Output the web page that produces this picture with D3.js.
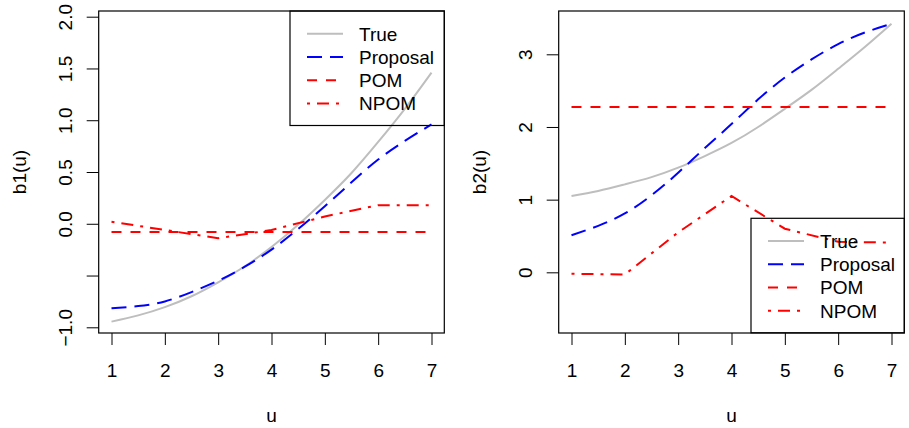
<!DOCTYPE html>
<html><head><meta charset="utf-8">
<script src="https://cdn.jsdelivr.net/npm/d3@7"></script>
<style>
html,body{margin:0;padding:0;background:#fff;}
svg text{font-family:"Liberation Sans",Arial,Helvetica,sans-serif;fill:#000;}
</style></head>
<body>
<svg id="chart" width="909" height="428"></svg>
<script>
// ---------- data ----------
const uFine = [1, 1.5, 2, 2.5, 3, 3.5, 4, 4.5, 5, 5.5, 6, 6.5, 7];
const uKnots = [1, 2, 3, 4, 5, 6, 7];

const b1True     = [-0.945, -0.885, -0.805, -0.70, -0.565, -0.41, -0.225, -0.01, 0.23, 0.49, 0.79, 1.11, 1.46];
const b1Proposal = [-0.815, -0.795, -0.75, -0.66, -0.55, -0.415, -0.25, -0.05, 0.17, 0.40, 0.62, 0.80, 0.96];
const b1POM      = -0.08;
const b1NPOM     = [0.02, -0.06, -0.14, -0.06, 0.07, 0.18, 0.18];

const b2True     = [1.05, 1.12, 1.21, 1.31, 1.44, 1.60, 1.78, 2.00, 2.25, 2.51, 2.80, 3.10, 3.42];
const b2Proposal = [0.51, 0.64, 0.81, 1.06, 1.37, 1.71, 2.04, 2.38, 2.68, 2.93, 3.14, 3.30, 3.42];
const b2POM      = 2.275;
const b2NPOM     = [-0.02, -0.03, 0.55, 1.05, 0.60, 0.42, 0.41];

const xTicks = [1, 2, 3, 4, 5, 6, 7];
const b1Ticks = [-1, -0.5, 0, 0.5, 1, 1.5, 2];
const b1TickLabels = ["\u22121.0", "", "0.0", "0.5", "1.0", "1.5", "2.0"];
const b2Ticks = [0, 1, 2, 3];
const b2TickLabels = ["0", "1", "2", "3"];

const legendNames = ["True", "Proposal", "POM", "NPOM"];

// ---------- styles ----------
const styles = {
  "True":     {color: "#bebebe", dash: null},
  "Proposal": {color: "#0000ff", dash: "15,8"},
  "POM":      {color: "#ff0000", dash: "10,9"},
  "NPOM":     {color: "#ff0000", dash: "3,7,12,7"}
};
const FS = 19;

const svg = d3.select("#chart");

function panel(opt) {
  const g = svg.append("g").attr("transform", `translate(${opt.dx},0)`);
  const left = 98.7, right = 444.3, top = 11, bottom = 333;
  const x = d3.scaleLinear().domain([0.76, 7.24]).range([left, right]);
  const y = d3.scaleLinear().domain(opt.ydom).range([bottom, top]);

  const lineFine = d3.line().x((d, i) => x(uFine[i])).y(d => y(d)).curve(d3.curveNatural);
  const lineKnot = d3.line().x((d, i) => x(uKnots[i])).y(d => y(d));

  const clip = "clip" + opt.dx;
  g.append("clipPath").attr("id", clip).append("rect")
    .attr("x", left).attr("y", top).attr("width", right - left).attr("height", bottom - top);
  const plot = g.append("g").attr("clip-path", `url(#${clip})`);

  function draw(path, name) {
    const s = styles[name];
    plot.append("path").attr("d", path).attr("fill", "none")
      .attr("stroke", s.color).attr("stroke-width", 2)
      .attr("stroke-dasharray", s.dash);
  }
  draw(lineFine(opt.tru), "True");
  draw(lineFine(opt.prop), "Proposal");
  draw(lineKnot(uKnots.map(() => opt.pom)), "POM");
  draw(lineKnot(opt.npom), "NPOM");

  // box
  g.append("rect").attr("x", left).attr("y", top).attr("width", right - left).attr("height", bottom - top)
    .attr("fill", "none").attr("stroke", "#000").attr("stroke-width", 1.2);

  // x axis
  const xa = g.append("g").attr("transform", `translate(0,${bottom})`)
    .call(d3.axisBottom(x).tickValues(xTicks).tickSize(12).tickSizeOuter(0).tickPadding(19).tickFormat(d3.format("d")));
  xa.select(".domain").remove();
  xa.selectAll("line").attr("stroke", "#000");
  xa.selectAll("text").attr("font-size", FS).attr("font-family", null);
  xa.attr("font-family", null).attr("font-size", null);

  // y axis
  const ya = g.append("g").attr("transform", `translate(${left},0)`)
    .call(d3.axisLeft(y).tickValues(opt.yticks).tickSize(12).tickSizeOuter(0)
      .tickFormat((d, i) => opt.ylabels[i]));
  ya.select(".domain").remove();
  ya.selectAll("line").attr("stroke", "#000");
  ya.attr("font-family", null).attr("font-size", null);
  ya.selectAll("text").attr("font-size", FS)
    .attr("x", null).attr("dy", null)
    .attr("text-anchor", "middle")
    .attr("transform", "translate(-27,0) rotate(-90)");

  // axis titles
  g.append("text").attr("x", (left + right) / 2).attr("y", 421.5)
    .attr("text-anchor", "middle").attr("font-size", FS).text("u");
  g.append("text").attr("transform", `translate(25.5,${(top + bottom) / 2}) rotate(-90)`)
    .attr("text-anchor", "middle").attr("font-size", FS).text(opt.ytitle);

  // legend
  const lx = opt.legend.x, ly = opt.legend.y, lw = right - opt.legend.x, lh = 114.5;
  const lg = g.append("g");
  lg.append("rect").attr("x", lx).attr("y", ly).attr("width", lw).attr("height", lh)
    .attr("fill", "none").attr("stroke", "#000").attr("stroke-width", 1.2);
  legendNames.forEach((n, i) => {
    const yy = ly + 22.8 + i * 23.2;
    const s = styles[n];
    lg.append("line").attr("x1", lx + 17).attr("x2", lx + 53).attr("y1", yy).attr("y2", yy)
      .attr("stroke", s.color).attr("stroke-width", 2).attr("stroke-dasharray", s.dash);
    lg.append("text").attr("x", lx + 69).attr("y", yy).attr("dy", "0.36em")
      .attr("font-size", FS).text(n);
  });
}

panel({dx: 0, ydom: [-1.055, 2.055], tru: b1True, prop: b1Proposal, pom: b1POM, npom: b1NPOM,
  yticks: b1Ticks, ylabels: b1TickLabels, ytitle: "b1(u)", legend: {x: 290, y: 11}});
panel({dx: 460, ydom: [-0.835, 3.596], tru: b2True, prop: b2Proposal, pom: b2POM, npom: b2NPOM,
  yticks: b2Ticks, ylabels: b2TickLabels, ytitle: "b2(u)", legend: {x: 291, y: 218.3}});
</script>
</body></html>
